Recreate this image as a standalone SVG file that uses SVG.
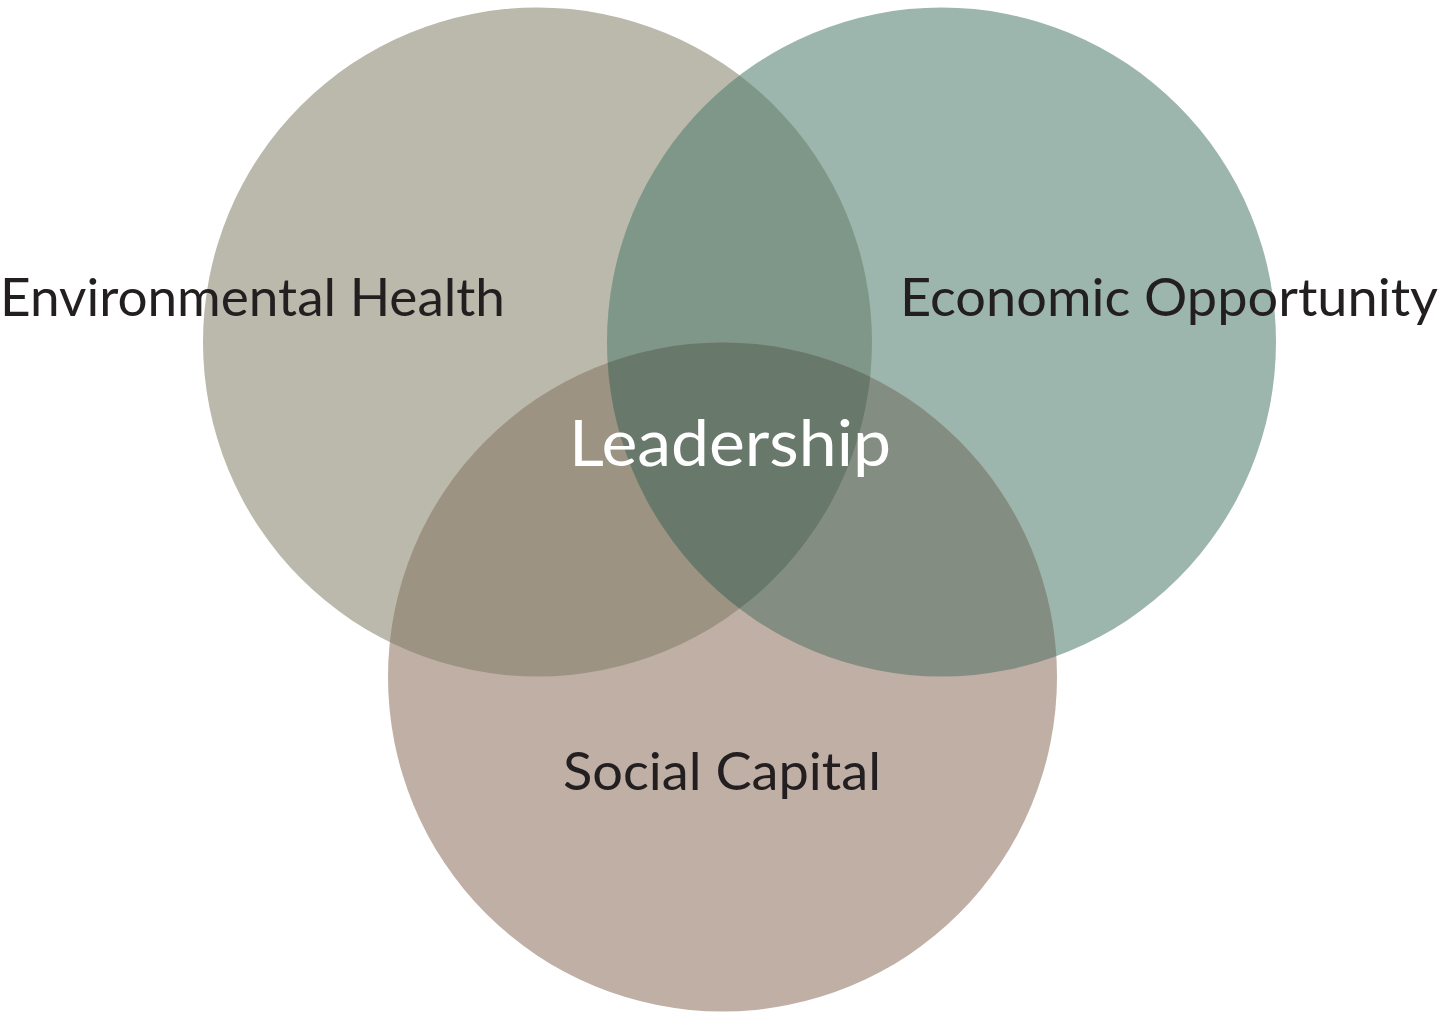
<svg xmlns="http://www.w3.org/2000/svg" width="1440" height="1020" viewBox="0 0 1440 1020">
<style>
.lbl{font-family:Lato,"Open Sans","Liberation Sans",sans-serif;font-size:52px;fill:#231f20}
.lead{font-family:Lato,"Open Sans","Liberation Sans",sans-serif;font-size:63px;fill:#ffffff}
</style>
<defs>
<clipPath id="c1"><circle cx="537.5" cy="342" r="334.5"/></clipPath>
<clipPath id="c2"><circle cx="941.5" cy="342" r="334.5"/></clipPath>
</defs>
<rect width="1440" height="1020" fill="#ffffff"/>
<g id="env-health">
<circle cx="537.5" cy="342" r="334.5" fill="#bbb9ab"/>
</g>
<g id="econ-opportunity">
<circle cx="941.5" cy="342" r="334.5" fill="#9db6ad"/>
</g>
<g id="social-capital">
<circle cx="722.5" cy="677" r="334.5" fill="#c0afa5"/>
</g>
<g id="overlaps">
<g clip-path="url(#c1)"><circle cx="941.5" cy="342" r="334.5" fill="#7f9789"/></g>
<g clip-path="url(#c1)"><circle cx="722.5" cy="677" r="334.5" fill="#9c9383"/></g>
<g clip-path="url(#c2)"><circle cx="722.5" cy="677" r="334.5" fill="#848d82"/></g>
<g clip-path="url(#c1)"><g clip-path="url(#c2)"><circle cx="722.5" cy="677" r="334.5" fill="#68786a"/></g></g>
</g>
<g id="labels">
<text class="lbl" x="0" y="316" textLength="505" lengthAdjust="spacingAndGlyphs">Environmental Health</text>
<text class="lbl" x="900" y="316" textLength="538" lengthAdjust="spacingAndGlyphs">Economic Opportunity</text>
<text class="lbl" x="563" y="790" textLength="318" lengthAdjust="spacingAndGlyphs">Social Capital</text>
<text id="leadership" class="lead" x="569" y="466" textLength="322" lengthAdjust="spacingAndGlyphs">Leadership</text>
</g>
</svg>
